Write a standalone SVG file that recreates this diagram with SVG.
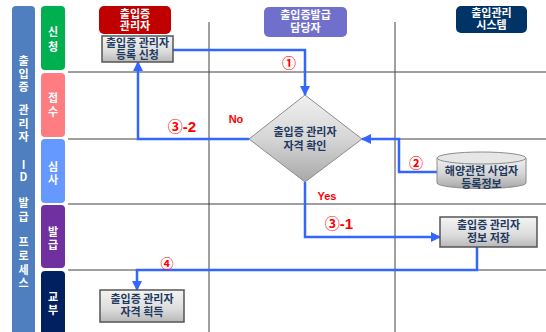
<svg xmlns="http://www.w3.org/2000/svg" width="546" height="332" viewBox="0 0 546 332">
<style>
.t{font-family:"Noto Sans CJK KR","Noto Sans",sans-serif;font-size:11px;font-weight:bold;text-anchor:middle}
.w{fill:#ffffff}
.n{fill:#1F3A5F}
.r{fill:#FF0000;font-family:"Liberation Sans","Noto Sans CJK KR",sans-serif;font-weight:bold;text-anchor:middle}
.lane{stroke:#7F7F7F;stroke-width:1.5;fill:none}
.vl{stroke:#404040;stroke-width:1;fill:none}
.c{stroke:#3366FF;stroke-width:2.5;fill:none;marker-end:url(#ah)}
.box{fill:url(#gb);stroke:#555555;stroke-width:1.5}
</style>
<defs>
<marker id="ah" viewBox="0 0 10 10" refX="9" refY="5" markerWidth="4" markerHeight="4" orient="auto" markerUnits="strokeWidth">
<path d="M0,0 L10,5 L0,10 z" fill="#3366FF"/>
</marker>
<linearGradient id="gb" x1="0" y1="0" x2="0" y2="1">
<stop offset="0" stop-color="#F4F4F4"/>
<stop offset="0.6" stop-color="#DCDCDC"/>
<stop offset="1" stop-color="#B8B8B8"/>
</linearGradient>
<linearGradient id="gd" x1="0" y1="0" x2="0" y2="1">
<stop offset="0" stop-color="#F0F0F0"/>
<stop offset="0.5" stop-color="#D6D6D6"/>
<stop offset="1" stop-color="#A8A8A8"/>
</linearGradient>
</defs>

<g id="bar">
<rect x="12" y="6" width="23" height="330" rx="4" fill="#4F7FBF"/>
<text class="t w"><tspan x="23.5" y="65">출</tspan><tspan x="23.5" y="78">입</tspan><tspan x="23.5" y="91">증</tspan><tspan x="23.5" y="114">관</tspan><tspan x="23.5" y="128">리</tspan><tspan x="23.5" y="141">자</tspan><tspan x="23.5" y="169">I</tspan><tspan x="23.5" y="181">D</tspan><tspan x="23.5" y="207">발</tspan><tspan x="23.5" y="221">급</tspan><tspan x="23.5" y="246">프</tspan><tspan x="23.5" y="260">로</tspan><tspan x="23.5" y="274">세</tspan><tspan x="23.5" y="287">스</tspan></text>
</g>

<g id="stages">
<rect x="41" y="6" width="24" height="64" rx="4" fill="#00B050"/>
<rect x="41" y="73" width="24" height="64" rx="4" fill="#FF7C80"/>
<rect x="41" y="139" width="24" height="64" rx="4" fill="#6699FF"/>
<rect x="41" y="205" width="24" height="63" rx="4" fill="#7030A0"/>
<rect x="41" y="271" width="24" height="65" rx="4" fill="#002060"/>
<text class="t w" font-size="12"><tspan x="53" y="36">신</tspan><tspan x="53" y="51">청</tspan></text>
<text class="t w" font-size="12"><tspan x="53" y="102">접</tspan><tspan x="53" y="116">수</tspan></text>
<text class="t w" font-size="12"><tspan x="53" y="171">심</tspan><tspan x="53" y="184">사</tspan></text>
<text class="t w" font-size="12"><tspan x="53" y="236">발</tspan><tspan x="53" y="249">급</tspan></text>
<text class="t w" font-size="12"><tspan x="53" y="301">교</tspan><tspan x="53" y="314">부</tspan></text>
</g>

<g id="lanes">
<line class="lane" x1="68" y1="72" x2="546" y2="72"/>
<line class="lane" x1="68" y1="139" x2="546" y2="139"/>
<line class="lane" x1="68" y1="204" x2="546" y2="204"/>
<line class="lane" x1="68" y1="270" x2="546" y2="270"/>
<line class="vl" x1="209" y1="22" x2="209" y2="332"/>
<line class="vl" x1="395" y1="22" x2="395" y2="332"/>
</g>

<g id="h1">
<rect x="99" y="6" width="72" height="28" rx="5" fill="#C00000"/>
<text class="t w"><tspan x="135" y="18">출입증</tspan><tspan x="135" y="30">관리자</tspan></text>
</g>
<g id="h2">
<rect x="264" y="7" width="83" height="30" rx="5" fill="#7070CC"/>
<text class="t w"><tspan x="305.5" y="19">출입증발급</tspan><tspan x="305.5" y="32">담당자</tspan></text>
</g>
<g id="h3">
<rect x="456" y="6" width="71" height="27" rx="5" fill="#003366"/>
<text class="t w"><tspan x="491.5" y="17">출입관리</tspan><tspan x="491.5" y="29">시스템</tspan></text>
</g>

<g id="connectors">
<path class="c" d="M173,50 H305 V95"/>
<path class="c" d="M249,139 H138 V62"/>
<path class="c" d="M437,172 H399 V139 H362"/>
<path class="c" d="M305,182 V237 H440"/>
<path class="c" d="M477,247 V270 H137 V290"/>
</g>

<g id="labels">
<text class="r" x="289" y="68" font-size="14">①</text>
<text class="r" x="182" y="132" font-size="15">③-2</text>
<text class="r" x="236" y="123" font-size="11">No</text>
<text class="r" x="416" y="168" font-size="14">②</text>
<text class="r" x="327" y="200" font-size="11">Yes</text>
<text class="r" x="339" y="229" font-size="15">③-1</text>
<text class="r" x="167" y="268" font-size="13">④</text>
</g>

<g id="n1">
<rect class="box" x="102" y="36" width="71" height="26"/>
<text class="t n"><tspan x="137.5" y="47">출입증 관리자</tspan><tspan x="137.5" y="59">등록 신청</tspan></text>
</g>

<g id="n2">
<path d="M305,95 L362,139 L305,182 L249,139 Z" fill="url(#gd)" stroke="#8C8C8C" stroke-width="1"/>
<text class="t n"><tspan x="305" y="136">출입증 관리자</tspan><tspan x="305" y="150">자격 확인</tspan></text>
</g>

<g id="n3">
<path d="M437,158 V183 A44.5,5.5 0 0 0 526,183 V158" fill="url(#gd)" stroke="#8C8C8C" stroke-width="1"/>
<ellipse cx="481.5" cy="158" rx="44.5" ry="6" fill="#E6E6E6" stroke="#8C8C8C" stroke-width="1"/>
<text class="t n"><tspan x="481.5" y="175">해양관련 사업자</tspan><tspan x="481.5" y="188">등록정보</tspan></text>
</g>

<g id="n4">
<rect class="box" x="440" y="217" width="97" height="30"/>
<text class="t n"><tspan x="488.5" y="229">출입증 관리자</tspan><tspan x="488.5" y="242">정보 저장</tspan></text>
</g>

<g id="n5">
<rect class="box" x="100" y="290" width="84" height="32"/>
<text class="t n"><tspan x="142" y="303">출입증 관리자</tspan><tspan x="142" y="316">자격 획득</tspan></text>
</g>
</svg>
